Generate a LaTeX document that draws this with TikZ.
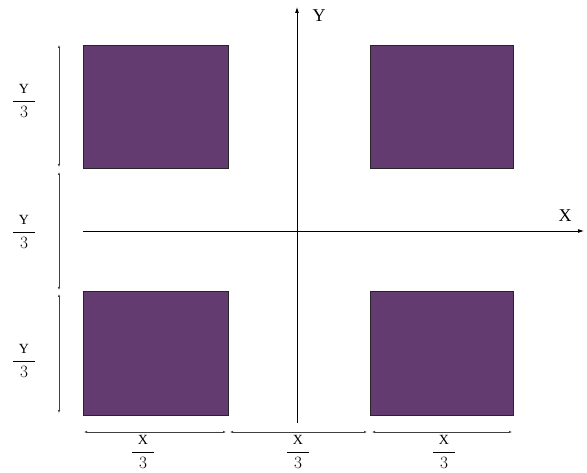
\documentclass[tikz,border=0pt]{standalone}
\usepackage{fontspec}
\usepackage{amsmath}
\setmainfont{Liberation Serif}
\usetikzlibrary{arrows.meta}
\definecolor{squarefill}{RGB}{99,59,112}
\newcommand{\thirdof}[1]{$\dfrac{\mkern6mu\text{\fontsize{14}{14}\selectfont #1}\mkern6mu}{\mkern6mu 3\mkern6mu}$}
\tikzset{
  block/.style={draw=black!85, line width=0.8pt, fill=squarefill, inner sep=0pt, anchor=north west},
  dimline/.style={line width=0.8pt, black!75, {Latex[length=3pt,width=2.4pt]}-{Latex[length=3pt,width=2.4pt]}},
  axisline/.style={line width=0.8pt, -{Latex[length=6pt,width=4pt]}},
  fraclabel/.style={font=\fontsize{16}{18}\selectfont, inner sep=0pt},
  axislabel/.style={font=\fontsize{18}{20}\selectfont, inner sep=0pt}
}
\begin{document}
\begin{tikzpicture}[x=1pt,y=-1pt]
    \useasboundingbox (0,0) rectangle (587,473);

    % Four squares
    \node[block, minimum width=145pt, minimum height=123pt] (topleft) at (83,45) {};
    \node[block, minimum width=143pt, minimum height=123pt] (topright) at (370,45) {};
    \node[block, minimum width=145pt, minimum height=124pt] (botleft) at (83,291) {};
    \node[block, minimum width=143pt, minimum height=124pt] (botright) at (370,291) {};

    % Axes
    \coordinate (xstart) at (83,231);
    \coordinate (xend) at (584,231);
    \coordinate (ystart) at (297,423);
    \coordinate (yend) at (297,7);
    \draw[axisline] (xstart) -- (xend);
    \draw[axisline] (ystart) -- (yend);
    \node[axislabel] (xlabel) at (565,216) {X};
    \node[axislabel] (ylabel) at (319,16) {Y};

    % Vertical dimensions
    \coordinate (v0) at (59,45);
    \coordinate (v1) at (59,167);
    \coordinate (v2) at (59,172);
    \coordinate (v3) at (59,290);
    \coordinate (v4) at (59,294);
    \coordinate (v5) at (59,413);
    \draw[dimline] (v0) -- (v1);
    \draw[dimline] (v2) -- (v3);
    \draw[dimline] (v4) -- (v5);
    \node[fraclabel] (ytop) at (24,101) {\thirdof{Y}};
    \node[fraclabel] (ymid) at (24,232) {\thirdof{Y}};
    \node[fraclabel] (ybot) at (24,361) {\thirdof{Y}};

    % Horizontal dimensions
    \coordinate (h0) at (84,432);
    \coordinate (h1) at (226,432);
    \coordinate (h2) at (230,432);
    \coordinate (h3) at (367,432);
    \coordinate (h4) at (372,432);
    \coordinate (h5) at (512,432);
    \draw[dimline] (h0) -- (h1);
    \draw[dimline] (h2) -- (h3);
    \draw[dimline] (h4) -- (h5);
    \node[fraclabel] (xleft) at (143,452) {\thirdof{X}};
    \node[fraclabel] (xmid) at (298,452) {\thirdof{X}};
    \node[fraclabel] (xright) at (444,452) {\thirdof{X}};
\end{tikzpicture}
\end{document}
